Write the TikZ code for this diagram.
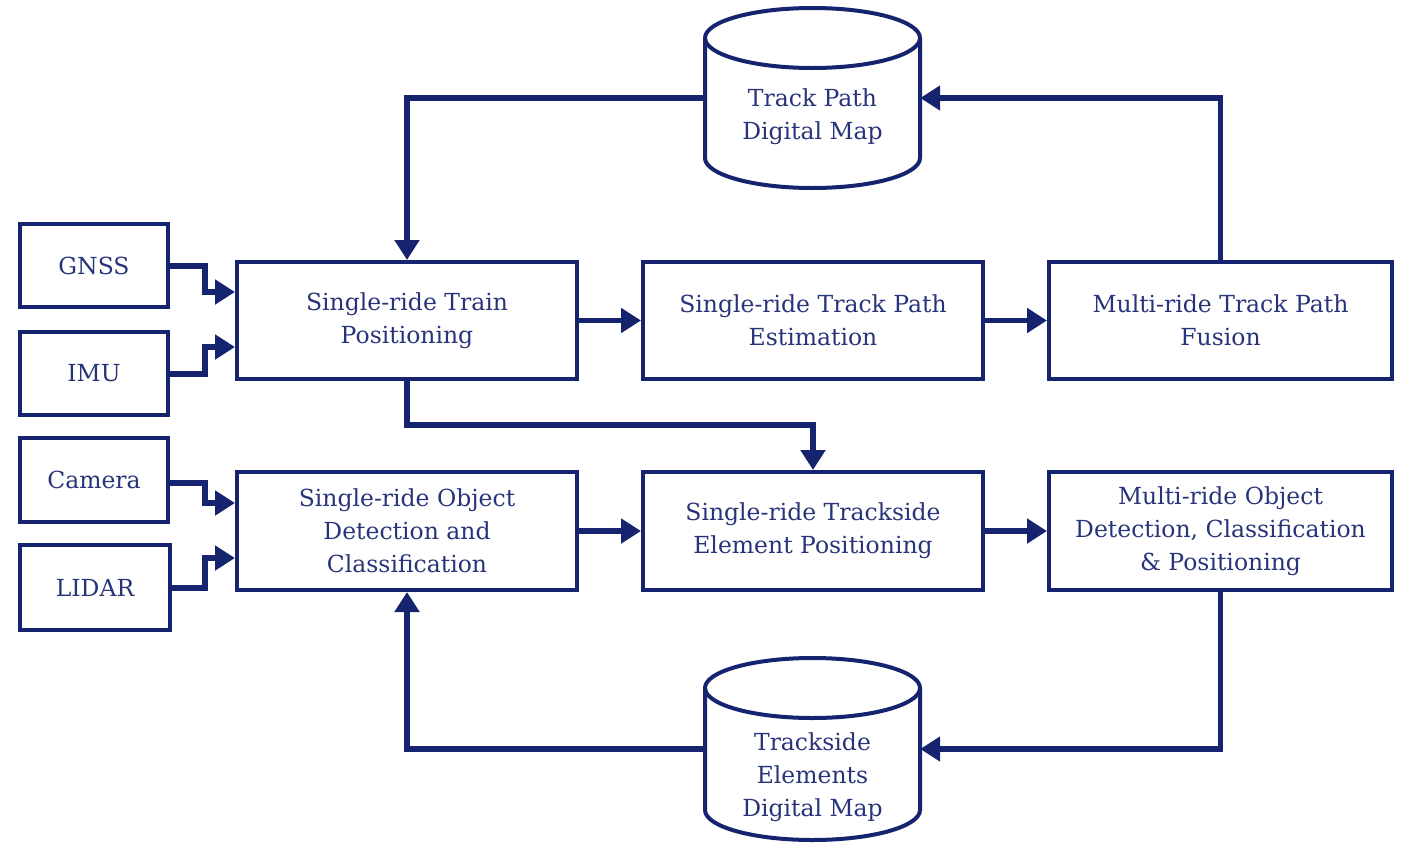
\documentclass[tikz,border=0pt]{standalone}
\usepackage{fontspec}
\setmainfont{DejaVu Serif}
\usetikzlibrary{arrows.meta}
\definecolor{navy}{RGB}{22,36,112}
\definecolor{navytext}{RGB}{40,52,122}
\tikzset{
  blk/.style={draw=navy, line width=4pt, rectangle, inner sep=0pt, align=center,
    text=navytext, font=\fontsize{23.5}{33}\selectfont},
  conn/.style={draw=navy, line width=5.5pt, -{Triangle[length=20pt,width=24pt]}},
  cyl/.style={draw=navy, line width=4pt},
  lbl/.style={align=center, text=navytext, font=\fontsize{23.5}{33}\selectfont, inner sep=0pt},
}
\begin{document}
\begin{tikzpicture}[x=1pt,y=-1pt]
\useasboundingbox (0,0) rectangle (1403,844);
% sensors
\node[blk, minimum width=148pt, minimum height=83pt] (gnss) at (94,265.5) {GNSS};
\node[blk, minimum width=148pt, minimum height=83pt] (imu) at (94,373.5) {IMU};
\node[blk, minimum width=148pt, minimum height=84pt] (cam) at (94,480) {Camera};
\node[blk, minimum width=150pt, minimum height=85pt] (lidar) at (95,587.5) {LIDAR};
% main boxes
\node[blk, minimum width=340pt, minimum height=117pt] (stp) at (407,320.5) {Single-ride Train\\Positioning};
\node[blk, minimum width=340pt, minimum height=117pt] (stpe) at (813,320.5) {Single-ride Track Path\\Estimation};
\node[blk, minimum width=343pt, minimum height=117pt] (mtpf) at (1220.5,320.5) {Multi-ride Track Path\\Fusion};
\node[blk, minimum width=340pt, minimum height=118pt] (sodc) at (407,531) {Single-ride Object\\Detection and\\Classification};
\node[blk, minimum width=340pt, minimum height=118pt] (step) at (813,531) {Single-ride Trackside\\Element Positioning};
\node[blk, minimum width=343pt, minimum height=118pt] (modc) at (1220.5,531) {Multi-ride Object\\Detection, Classification\\\& Positioning};
% cylinders
\node[minimum width=215pt, minimum height=120pt, inner sep=0pt] (tpm) at (812.5,98) {};
\draw[cyl] (705,38) -- (705,158) arc[start angle=180,end angle=360,x radius=107.5pt,y radius=30pt] -- (920,38);
\draw[cyl] (812.5,38) ellipse[x radius=107.5pt,y radius=30pt];
\node[lbl] (tpmtext) at (812.5,117) {Track Path\\Digital Map};
\node[minimum width=215pt, minimum height=122pt, inner sep=0pt] (tem) at (812.5,749) {};
\draw[cyl] (705,688) -- (705,810) arc[start angle=180,end angle=360,x radius=107.5pt,y radius=30pt] -- (920,688);
\draw[cyl] (812.5,688) ellipse[x radius=107.5pt,y radius=30pt];
\node[lbl] (temtext) at (812.5,777) {Trackside\\Elements\\Digital Map};
% sensor connectors
\draw[conn] (gnss.east |- 0,266) -| (205,292) -- (stp.west |- 0,292);
\draw[conn] (imu.east |- 0,374) -| (205,347) -- (stp.west |- 0,347);
\draw[conn] (cam.east |- 0,483) -| (205,503) -- (sodc.west |- 0,503);
\draw[conn] (lidar.east |- 0,588) -| (205,558) -- (sodc.west |- 0,558);
% main flow
\draw[conn] (stp) -- (stpe);
\draw[conn] (stpe) -- (mtpf);
\draw[conn] (sodc) -- (step);
\draw[conn] (step) -- (modc);
\draw[conn] (stp.south) -- (407,425) -| (step.north);
\draw[conn] (tpm.west) -| (stp.north);
\draw[conn] (mtpf.north) |- (tpm.east);
\draw[conn] (modc.south) |- (tem.east);
\draw[conn] (tem.west) -| (sodc.south);
\end{tikzpicture}
\end{document}
